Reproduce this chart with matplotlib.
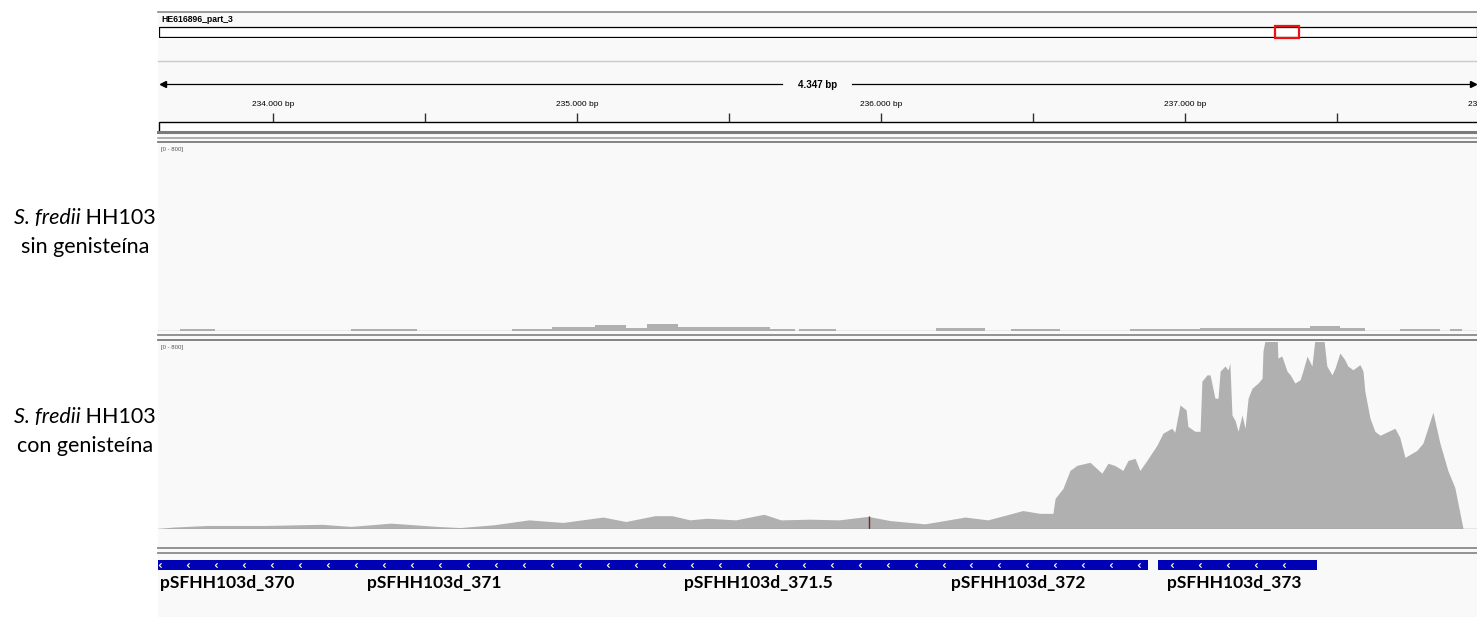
import numpy as np
import matplotlib.pyplot as plt
from matplotlib.patches import Rectangle
from matplotlib.path import Path

W, H = 1477, 617

chrom_name = 'HE616896_part_3'
chrom_len = 275500
view_start, view_end = 233622, 237961
locus_label = '4.347 bp'
major_ticks = [234000, 235000, 236000, 237000, 238000]
major_labels = ['234.000 bp', '235.000 bp', '236.000 bp', '237.000 bp', '238.000 bp']
minor_ticks = [234500, 235500, 236500, 237500]
data_max = 800
range_label = '[0 - 800]'

# S. fredii sin genisteina (bins: start, end, coverage)
sin_start = [233694, 234257, 234786, 234918, 235060, 235161, 235231, 235333, 235635, 235731,
             236181, 236428, 236819, 237050, 237411, 237510, 237708, 237872]
sin_end = [233809, 234474, 234918, 235060, 235161, 235231, 235333, 235635, 235717, 235852,
           236342, 236589, 237050, 237411, 237510, 237592, 237839, 237911]
sin_cov = [7, 6, 9, 14, 23, 10, 29, 17, 9, 9,
           12, 9, 9, 13, 22, 12, 8, 8]

# S. fredii con genisteina (position, coverage)
con_pos = [233622, 233671, 233783, 233974, 234161, 234257, 234388, 234540, 234615, 234727,
           234842, 234954, 235086, 235161, 235257, 235313, 235372, 235428, 235523, 235615,
           235671, 235767, 235862, 235958, 236030, 236145, 236277, 236352, 236467, 236523,
           236566, 236573, 236599, 236622, 236645, 236688, 236727, 236747, 236770, 236796,
           236813, 236836, 236852, 236875, 236908, 236928, 236957, 236967, 236984, 237004,
           237010, 237033, 237050, 237056, 237073, 237083, 237092, 237099, 237109, 237116,
           237132, 237142, 237148, 237155, 237165, 237175, 237188, 237198, 237208, 237221,
           237241, 237254, 237257, 237270, 237303, 237306, 237319, 237336, 237346, 237362,
           237379, 237388, 237402, 237418, 237431, 237454, 237467, 237484, 237494, 237510,
           237526, 237536, 237553, 237576, 237586, 237592, 237609, 237625, 237642, 237691,
           237707, 237724, 237763, 237783, 237800, 237816, 237839, 237865, 237888, 237915,
           237961]
con_cov = [0, 6, 13, 13, 18, 9, 23, 9, 4, 16,
           37, 26, 49, 30, 55, 55, 37, 44, 37, 61,
           37, 40, 37, 52, 34, 20, 49, 37, 77, 65,
           65, 129, 172, 249, 271, 284, 237, 280, 270, 249,
           292, 301, 249, 292, 357, 409, 430, 413, 530, 509,
           438, 417, 417, 632, 659, 659, 602, 559, 559, 675,
           697, 680, 710, 487, 464, 417, 487, 430, 559, 602,
           624, 645, 761, 850, 850, 731, 740, 675, 660, 624,
           638, 675, 739, 697, 850, 850, 697, 659, 688, 753,
           724, 697, 681, 703, 675, 589, 473, 417, 400, 430,
           391, 305, 335, 366, 434, 499, 366, 249, 176, 0,
           0]
mismatch_pos = 235960
mismatch_cov = 52

gene_start = [233400, 236911]
gene_end = [236878, 237434]
gene_names = ['pSFHH103d_370', 'pSFHH103d_371', 'pSFHH103d_371.5', 'pSFHH103d_372', 'pSFHH103d_373']
gene_label_pos = [233628, 234309, 235352, 236230, 236941]

track_names = [('S. fredii', ' HH103', 'sin genisteína'),
               ('S. fredii', ' HH103', 'con genisteína')]

fig = plt.figure(figsize=(W / 100, H / 100), dpi=100)
fig.patch.set_facecolor('white')

bg = fig.add_axes([0, 0, 1, 1])
bg.set_xlim(0, W)
bg.set_ylim(H, 0)
bg.set_axis_off()


def px_axes(x0, y0, x1, y1):
    ax = fig.add_axes([x0 / W, 1 - y1 / H, (x1 - x0) / W, (y1 - y0) / H])
    ax.set_axis_off()
    return ax


P0 = 158  # left edge of the IGV panel
bg.add_patch(Rectangle((P0, 11), W - P0, H - 11, facecolor='#f9f9f9', edgecolor='none'))
bg.plot([P0, W], [11.5, 11.5], color='#8a8a8a', lw=1.2)

# chromosome ideogram
bg.text(161, 19, chrom_name, fontsize=6.2, fontweight='bold', family='Liberation Sans', va='center')
ideo = px_axes(P0 + 1, 26, W, 38)
ideo.set_xlim(0, chrom_len)
ideo.set_ylim(0, 1)
ideo.add_patch(Rectangle((0, 0.1), chrom_len, 0.8, facecolor='white', edgecolor='black', lw=0.9))
ideo.add_patch(Rectangle((view_start - 400, 0.0), view_end - view_start + 800, 1.0,
                         facecolor='none', edgecolor='#ee1111', lw=1.6, zorder=3, clip_on=False))

bg.plot([P0, W], [60.5, 60.5], color='#c9c9d6', lw=1)

# ruler
bg.plot([161, 782], [84, 84], color='black', lw=0.9)
bg.plot([852, W - 2], [84, 84], color='black', lw=0.9)
bg.plot([163], [84], marker='<', color='black', markersize=4)
bg.plot([W - 4], [84], marker='>', color='black', markersize=4)
bg.text(818, 84.5, locus_label, fontsize=7, fontweight='bold', family='Liberation Sans',
        ha='center', va='center')

ruler = px_axes(P0, 95, W, 122)
ruler.set_xlim(view_start, view_end)
ruler.set_ylim(122, 95)
ruler.vlines(major_ticks + minor_ticks, 113, 121.5, color='#333333', lw=1)
for t, lab in zip(major_ticks, major_labels):
    ruler.text(t, 104, lab, fontsize=6, family='Liberation Sans', ha='center', va='center')

bg.add_patch(Rectangle((P0 + 0.5, 122), W - P0, 10, facecolor='white', edgecolor='black', lw=1))
bg.plot([P0, W], [132.3, 132.3], color='#7a7a7a', lw=2.2)
bg.plot([P0, W], [138, 138], color='#9a9a9a', lw=1.1)
bg.plot([P0, W], [141.5, 141.5], color='#7a7a7a', lw=1.3)

# coverage tracks
fill = '#b0b0b0'
t1 = px_axes(P0, 144.7, W, 330.7)
t1.set_xlim(view_start, view_end)
t1.set_ylim(0, data_max)
t1.bar(sin_start, sin_cov, width=np.subtract(sin_end, sin_start), align='edge',
       color=fill, edgecolor='none')
t1.axhline(0, color='#a8a8a8', lw=1)

t2 = px_axes(P0, 342, W, 528.5)
t2.set_xlim(view_start, view_end)
t2.set_ylim(0, data_max)
t2.fill_between(con_pos, con_cov, 0, color=fill, lw=0)
t2.vlines(mismatch_pos, 0, mismatch_cov, color='#8b2020', lw=1)
t2.axhline(0, color='#999999', lw=1)

bg.text(161, 149, range_label, fontsize=4.3, color='#555555', family='Liberation Sans', va='center')
bg.text(161, 348, range_label, fontsize=4.3, color='#555555', family='Liberation Sans', va='center')

bg.plot([P0, W], [334.7, 334.7], color='#8a8a8a', lw=1.3)
bg.plot([P0, W], [340, 340], color='#7a7a7a', lw=1.3)
bg.plot([P0, W], [548, 548], color='#8a8a8a', lw=1.3)
bg.plot([P0, W], [552.5, 552.5], color='#8a8a8a', lw=1.3)

# left labels: italic species + regular strain, centred as one line
renderer = fig.canvas.get_renderer()
for (sp, strain, cond), yc in zip(track_names, [218, 417]):
    a = bg.text(0, yc, sp, fontsize=15.5, family='Lato', style='italic', va='center')
    b = bg.text(0, yc, strain, fontsize=15.5, family='Lato', va='center')
    wa = a.get_window_extent(renderer).width
    wb = b.get_window_extent(renderer).width
    x0 = 85 - (wa + wb) / 2
    a.set_x(x0)
    b.set_x(x0 + wa)
    bg.text(85, yc + 29, cond, fontsize=15.5, family='Lato', ha='center', va='center')

# gene track
gt = px_axes(P0, 555, W, 600)
gt.set_xlim(view_start, view_end)
gt.set_ylim(600, 555)
chevron = Path([(0.5, 1), (-0.5, 0), (0.5, -1)], [Path.MOVETO, Path.LINETO, Path.LINETO])
for s, e in zip(gene_start, gene_end):
    gt.add_patch(Rectangle((s, 560), e - s, 9.5, facecolor='#0000b4', edgecolor='none'))
    cx = np.arange(s + 46, e - 20, 92)
    gt.plot(cx, np.full(len(cx), 564.8), linestyle='none', marker=chevron, markersize=3.2,
            markerfacecolor='none', markeredgecolor='white', markeredgewidth=0.8)
for name, pos in zip(gene_names, gene_label_pos):
    gt.text(pos, 583, name, fontsize=12.5, fontweight='bold', family='Lato', ha='left', va='center')

fig.savefig('out.png', dpi=100, facecolor='white')
